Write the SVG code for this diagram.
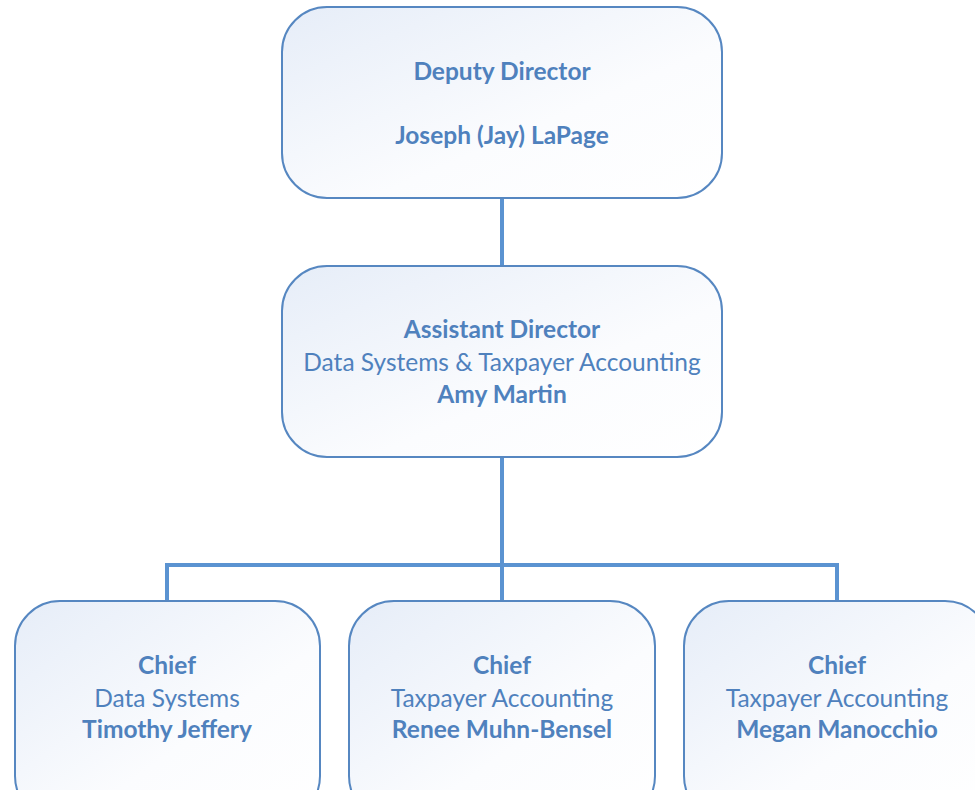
<svg xmlns="http://www.w3.org/2000/svg" width="975" height="790" viewBox="0 0 975 790">
<defs>
<linearGradient id="g" x1="0" y1="0" x2="1" y2="1">
<stop offset="0" stop-color="#e6edf8"/>
<stop offset="0.6" stop-color="#fbfcfe"/>
<stop offset="1" stop-color="#ffffff"/>
</linearGradient>
<style>
.box{fill:url(#g);stroke:#5687c1;stroke-width:2}
.t{font-family:Lato,"Open Sans",sans-serif;font-size:24.5px;fill:#4f81bd;text-anchor:middle}
.b{font-weight:bold}
.c{fill:none;stroke:#5b93d1;stroke-width:4}
</style>
</defs>
<rect width="975" height="790" fill="#ffffff"/>
<g id="connectors">
<path class="c" d="M502 198V266"/>
<path class="c" d="M502 457V565M167 601V565H837V601M502 565V601"/>
</g>
<g id="deputy">
<rect class="box" x="282" y="7" width="440" height="191" rx="45"/>
<text class="t b" x="502" y="80">Deputy Director</text>
<text class="t b" x="502" y="144">Joseph (Jay) LaPage</text>
</g>
<g id="assistant">
<rect class="box" x="282" y="266" width="440" height="191" rx="45"/>
<text class="t b" x="502" y="338">Assistant Director</text>
<text class="t" x="502" y="371">Data Systems &amp; Taxpayer Accounting</text>
<text class="t b" x="502" y="403">Amy Martin</text>
</g>
<g id="chief1">
<rect class="box" x="15" y="601" width="305" height="220" rx="45"/>
<text class="t b" x="167" y="674">Chief</text>
<text class="t" x="167" y="707">Data Systems</text>
<text class="t b" x="167" y="738">Timothy Jeffery</text>
</g>
<g id="chief2">
<rect class="box" x="349" y="601" width="306" height="220" rx="45"/>
<text class="t b" x="502" y="674">Chief</text>
<text class="t" x="502" y="707">Taxpayer Accounting</text>
<text class="t b" x="502" y="738">Renee Muhn-Bensel</text>
</g>
<g id="chief3">
<rect class="box" x="684" y="601" width="306" height="220" rx="45"/>
<text class="t b" x="837" y="674">Chief</text>
<text class="t" x="837" y="707">Taxpayer Accounting</text>
<text class="t b" x="837" y="738">Megan Manocchio</text>
</g>
</svg>
